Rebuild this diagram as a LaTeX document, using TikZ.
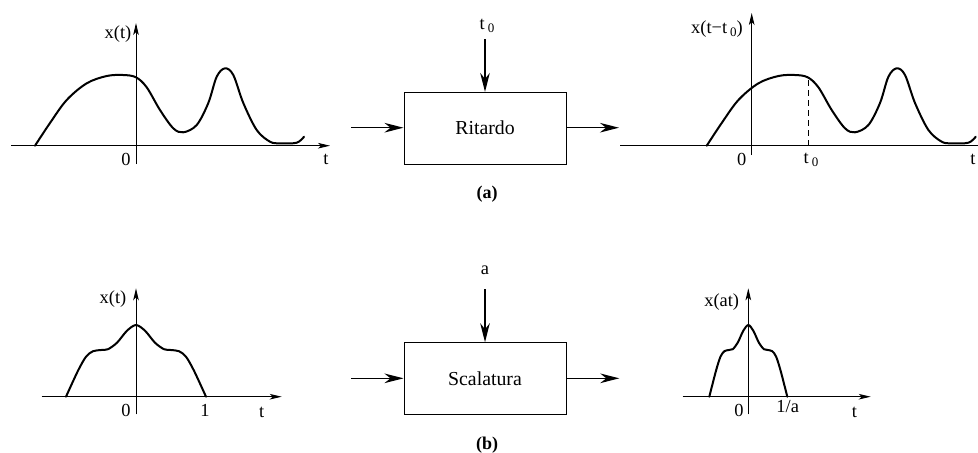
\documentclass[tikz,border=0pt]{standalone}
\usepackage{fontspec}
\setmainfont{Liberation Serif}
\usetikzlibrary{arrows.meta}
\newcommand{\subz}{\,\raisebox{-0.4ex}{\fontsize{6.5}{7}\selectfont 0}}
\begin{document}
\begin{tikzpicture}[x=0.5pt,y=-0.5pt,
  axis/.style={line width=0.5pt,-{Stealth[length=6pt,width=2.8pt,inset=1.5pt]}},
  plainaxis/.style={line width=0.5pt},
  sig/.style={line width=1pt,line join=round,line cap=round},
  conn/.style={line width=0.7pt,-{Stealth[length=9.5pt,width=4.8pt,inset=3pt]}},
  blockbox/.style={draw,line width=0.5pt,rectangle,minimum width=81pt,minimum height=35.8pt,inner sep=0pt,font=\fontsize{9.9}{12}\selectfont},
  lab/.style={inner sep=0pt,font=\fontsize{9.2}{11}\selectfont},
  captxt/.style={inner sep=0pt,font=\fontsize{9}{11}\selectfont\bfseries}]
\useasboundingbox (0,0) rectangle (978,452);

% ---------- (a) ----------
% panel 1 axes
\coordinate (a1xl) at (11,145.7); \coordinate (a1xr) at (330,145.7);
\coordinate (a1yb) at (136,164); \coordinate (a1yt) at (136,23);
\draw[axis] (a1xl) -- (a1xr);
\draw[axis] (a1yb) -- (a1yt);
\begin{scope}[shift={(136,145.7)}]
\draw[sig] plot[smooth,tension=0.55] coordinates{(-101,0) (-86,-22.7) (-69.3,-45.7) (-49.3,-62.4) (-29.3,-69.7) (-12.7,-70.7) (0,-68.4) (10.7,-58.4) (24,-35.7) (37.3,-17.4) (47.3,-13.4) (60.7,-20.7) (72.3,-42.7) (80.7,-69) (89,-77.4) (97.3,-70.7) (107.3,-42.7) (120.7,-15.7) (134,-4) (144,-2.4) (160.7,-3) (168,-9)};
\end{scope}
\node[lab] (a1lab) at (118,34) {x(t)};
\node[lab] (a1zero) at (126,159) {0};
\node[lab] (a1t) at (326,159) {t};

% block a
\node[blockbox] (ritardo) at (485,128.2) {Ritardo};
\coordinate (rin) at (351,127.7); \coordinate (rout) at (619,127.7);
\coordinate (rtop) at (485,39);
\draw[conn] (rin) -- (rin -| ritardo.west);
\draw[conn] (rout -| ritardo.east) -- (rout);
\draw[conn] (rtop) -- (ritardo.north);
\node[lab] (t0top) at (487,26) {t\subz};
\node[captxt] (capa) at (487,194) {(a)};

% panel 3
\coordinate (a3xl) at (620,145.7); \coordinate (a3xr) at (978,145.7);
\coordinate (a3yb) at (751.7,155); \coordinate (a3yt) at (751.7,13);
\draw[plainaxis] (a3xl) -- (a3xr);
\draw[axis] (a3yb) -- (a3yt);
\begin{scope}[shift={(807.7,145.7)}]
\draw[sig] plot[smooth,tension=0.55] coordinates{(-101,0) (-86,-22.7) (-69.3,-45.7) (-49.3,-62.4) (-29.3,-69.7) (-12.7,-70.7) (0,-68.4) (10.7,-58.4) (24,-35.7) (37.3,-17.4) (47.3,-13.4) (60.7,-20.7) (72.3,-42.7) (80.7,-69) (89,-77.4) (97.3,-70.7) (107.3,-42.7) (120.7,-15.7) (134,-4) (144,-2.4) (160.7,-3) (168,-9)};
\end{scope}
\coordinate (t0b) at (808,145.7); \coordinate (t0t) at (808,78);
\draw[line width=0.5pt,dash pattern=on 3pt off 2pt] (t0b) -- (t0t);
\node[lab] (a3lab) at (717,29) {x(t−t\subz)};
\node[lab] (a3zero) at (741.7,159) {0};
\node[lab] (a3t0) at (811,160) {t\subz};
\node[lab] (a3t) at (973,159) {t};

% ---------- (b) ----------
% panel 4
\coordinate (b1xl) at (41.7,396.7); \coordinate (b1xr) at (281.7,396.7);
\coordinate (b1yb) at (136,414.3); \coordinate (b1yt) at (136,288.3);
\draw[axis] (b1xl) -- (b1xr);
\draw[axis] (b1yb) -- (b1yt);
\begin{scope}[shift={(136,396.7)}]
\draw[sig] plot[smooth,tension=0.5] coordinates{(-70,0) (-58,-26) (-50,-40) (-43,-45.5) (-35,-46.7) (-28,-47.5) (-19,-54) (-9,-66) (0,-71.7) (9,-66) (19,-54) (28,-47.5) (35,-46.7) (43,-45.5) (50,-40) (58,-26) (70,0)};
\end{scope}
\node[lab] (b1lab) at (113,299) {x(t)};
\node[lab] (b1zero) at (126,410) {0};
\node[lab] (b1one) at (205,410) {1};
\node[lab] (b1t) at (261.7,412.7) {t};

% block b
\node[blockbox] (scal) at (485,378.5) {Scalatura};
\coordinate (sin) at (351,378.3); \coordinate (sout) at (619.3,378.3);
\coordinate (stop) at (485,289.3);
\draw[conn] (sin) -- (sin -| scal.west);
\draw[conn] (sout -| scal.east) -- (sout);
\draw[conn] (stop) -- (scal.north);
\node[lab] (aparam) at (485,270.7) {a};
\node[captxt] (capb) at (487,445) {(b)};

% panel 6
\coordinate (b3xl) at (682.7,396.7); \coordinate (b3xr) at (870.7,396.7);
\coordinate (b3yb) at (748.3,414.3); \coordinate (b3yt) at (748.3,288.3);
\draw[axis] (b3xl) -- (b3xr);
\draw[axis] (b3yb) -- (b3yt);
\begin{scope}[shift={(748.3,396.7)},xscale=0.557]
\draw[sig] plot[smooth,tension=0.5] coordinates{(-70,0) (-58,-26) (-50,-40) (-43,-45.5) (-35,-46.7) (-28,-47.5) (-19,-54) (-9,-66) (0,-71.7) (9,-66) (19,-54) (28,-47.5) (35,-46.7) (43,-45.5) (50,-40) (58,-26) (70,0)};
\end{scope}
\node[lab] (b3lab) at (721.7,301.7) {x(at)};
\node[lab] (b3zero) at (739,410) {0};
\node[lab] (b3inv) at (787.7,406.7) {1/a};
\node[lab] (b3t) at (854.3,412.7) {t};
\end{tikzpicture}
\end{document}
